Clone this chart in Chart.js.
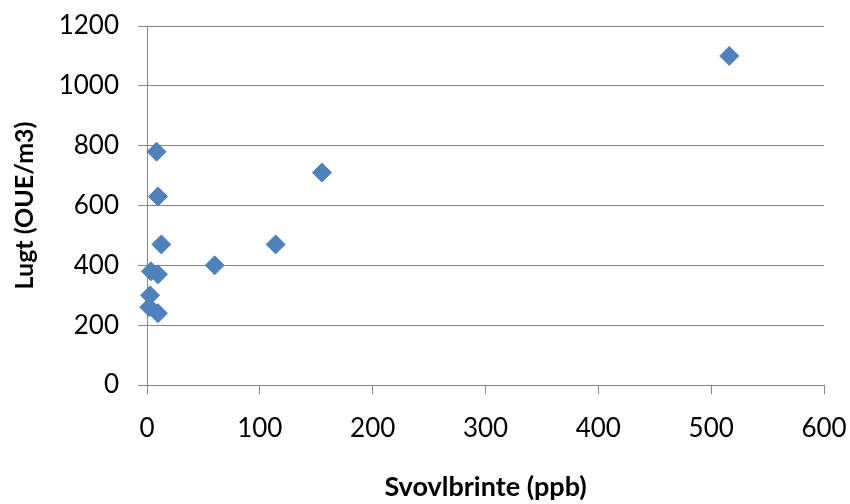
<!DOCTYPE html>
<html>
<head>
<meta charset="utf-8">
<script src="https://cdn.jsdelivr.net/npm/chart.js@4"></script>
<style>
  html, body { margin: 0; padding: 0; background: #fff; }
  #wrap { width: 850px; height: 504px; }
</style>
</head>
<body>
<div id="wrap"><canvas id="chart"></canvas></div>
<script>
// H2S (ppb) vs. odour (OUE/m3)
const h2sPpb = [8.5, 9.7, 12.7, 3.5, 9.7, 2.7, 2, 9.7, 60, 114, 155, 516];
const odourOue = [780, 630, 470, 380, 370, 300, 260, 240, 400, 470, 710, 1100];

const xTitle = 'Svovlbrinte (ppb)';
const yTitle = 'Lugt (OUE/m3)';

const points = h2sPpb.map((x, i) => ({ x: x, y: odourOue[i] }));

const gridGrey = '#868686';
const tickFont = { family: 'Lato', size: 26 };

new Chart(document.getElementById('chart'), {
    type: 'scatter',
    data: {
        datasets: [{
            data: points,
            clip: false,
            pointStyle: 'rectRot',
            pointRadius: 9.5,
            pointHoverRadius: 9.5,
            backgroundColor: '#4F81BD',
            borderColor: '#4F81BD',
            borderWidth: 1
        }]
    },
    options: {
        responsive: true,
        maintainAspectRatio: false,
        animation: false,
        layout: { padding: { top: 26, right: 26, left: 0, bottom: 0 } },
        plugins: {
            legend: { display: false },
            tooltip: { enabled: false }
        },
        scales: {
            x: {
                type: 'linear',
                min: 0,
                max: 600,
                ticks: { stepSize: 100, color: '#000', font: tickFont, padding: 19, maxRotation: 0, callback: (v) => String(v) },
                grid: { drawOnChartArea: false, drawTicks: true, tickLength: 9, color: gridGrey },
                border: { color: gridGrey },
                title: { display: true, text: xTitle, color: '#000', font: { family: 'Lato', size: 27, weight: 'bold' }, padding: { top: 0, bottom: 1 } },
                afterFit: (scale) => {
                    scale.height = 119;
                    scale.paddingLeft = 0;
                    scale.paddingRight = 0;
                }
            },
            y: {
                type: 'linear',
                min: 0,
                max: 1200,
                ticks: { stepSize: 200, color: '#000', font: tickFont, padding: 19, callback: (v) => String(v) },
                grid: { color: gridGrey, tickLength: 9 },
                border: { color: gridGrey },
                title: { display: true, text: yTitle, color: '#000', font: { family: 'Lato', size: 25, weight: 'bold' }, padding: { top: 10, bottom: 0 } },
                afterFit: (scale) => {
                    scale.width = 147;
                    scale.paddingTop = 0;
                    scale.paddingBottom = 0;
                }
            }
        }
    }
});
</script>
</body>
</html>
